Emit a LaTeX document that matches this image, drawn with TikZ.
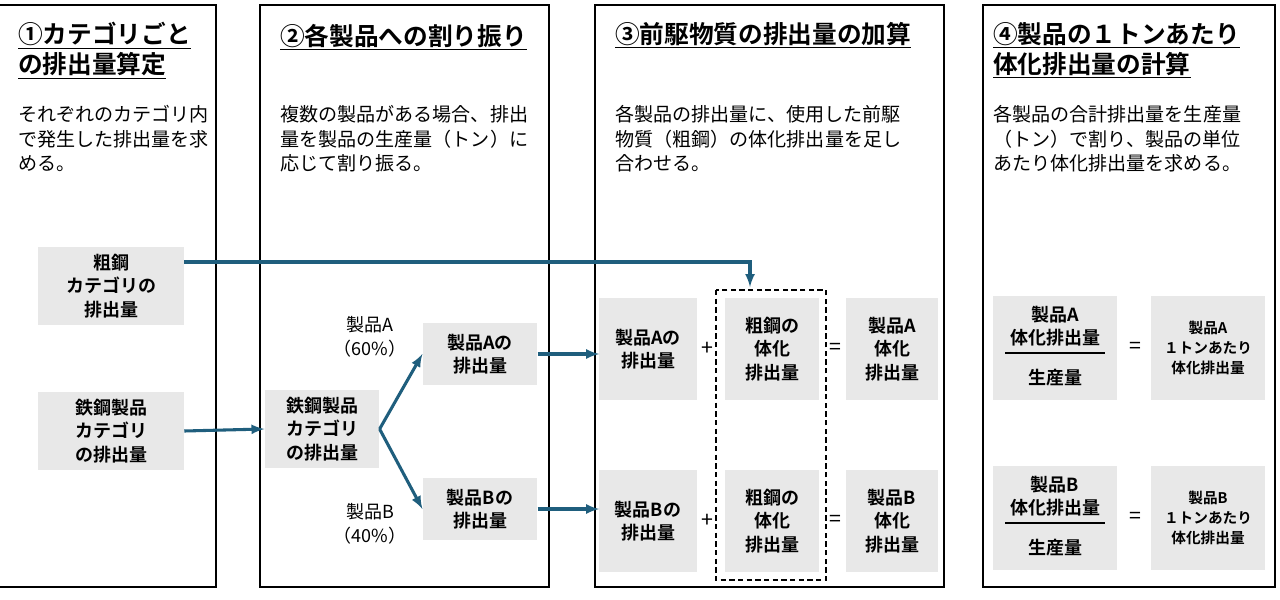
\documentclass[tikz,border=0pt]{standalone}
\usepackage{fontspec}
\setmainfont{Noto Sans CJK JP}[BoldFont=* Bold]
\newcommand\myul[1]{\underline{#1}}
\definecolor{arrc}{RGB}{31,94,125}
\begin{document}
\begin{tikzpicture}[x=0.75pt,y=-0.75pt,
 panel/.style={draw=black,line width=1.2pt},
 gbox/.style={fill=gray!18,draw=none,align=center,font=\fontsize{13.5}{17.5}\selectfont\bfseries},
 ttl/.style={anchor=north west,align=left,inner sep=0pt,font=\fontsize{18.5}{22.5}\selectfont\bfseries},
 body/.style={anchor=north west,align=left,inner sep=0pt,font=\fontsize{14.3}{18.5}\selectfont},
 lbl/.style={align=center,font=\fontsize{13.5}{18}\selectfont},
 arr/.style={draw=arrc,line width=2.3pt,-{latex}}]
\useasboundingbox (0,0) rectangle (1280,599);
\fill[white] (0,0) rectangle (1280,599);
% panels
\draw[panel] (-2,5) rectangle (216,587);
\draw[panel] (260,5) rectangle (549,587);
\draw[panel] (595,5) rectangle (944,587);
\draw[panel] (983,5) rectangle (1275,587);
% titles
\node[ttl] (t1) at (18,22) {\myul{①カテゴリごと}\\\myul{の排出量算定}};
\node[ttl] (t2) at (280,24) {\myul{②各製品への割り振り}};
\node[ttl] (t3) at (615,22) {\myul{③前駆物質の排出量の加算}};
\node[ttl] (t4) at (993,22) {\myul{④製品の１トンあたり}\\\myul{体化排出量の計算}};
% body
\node[body] (b1) at (18,105) {それぞれのカテゴリ内\\で発生した排出量を求\\める。};
\node[body] (b2) at (280,105) {複数の製品がある場合、排出\\量を製品の生産量（トン）に\\応じて割り振る。};
\node[body] (b3) at (615,105) {各製品の排出量に、使用した前駆\\物質（粗鋼）の体化排出量を足し\\合わせる。};
\node[body] (b4) at (993,105) {各製品の合計排出量を生産量\\（トン）で割り、製品の単位\\あたり体化排出量を求める。};
% panel1
\node[gbox,minimum width=109.5pt,minimum height=58.5pt] (c1) at (111,286) {粗鋼\\カテゴリの\\排出量};
\node[gbox,minimum width=109.5pt,minimum height=58.5pt] (c2) at (111,431) {鉄鋼製品\\カテゴリ\\の排出量};
% panel2
\node[gbox,minimum width=86pt,minimum height=58.5pt] (p2) at (322,429) {鉄鋼製品\\カテゴリ\\の排出量};
\node[gbox,minimum width=86pt,minimum height=46.5pt] (pa) at (480,354) {製品Aの\\排出量};
\node[gbox,minimum width=86pt,minimum height=46.5pt] (pb) at (480,509) {製品Bの\\排出量};
\node[lbl] (la) at (370,337) {製品A\\（60\%）};
\node[lbl] (lb) at (370,524) {製品B\\（40\%）};
% panel3
\draw[dash pattern=on 4pt off 2.5pt,line width=1pt] (716,290) rectangle (826,580);
\coordinate (dtop) at (750,287);
\foreach \r/\y in {A/349,B/521}{
 \node[gbox,minimum width=73pt,minimum height=76.5pt] (e\r) at (648,\y) {製品\r の\\排出量};
 \node[lbl,font=\fontsize{16}{18}\selectfont] (pl\r) at (707,\y) {+};
 \node[gbox,minimum width=71pt,minimum height=76.5pt] (s\r) at (772,\y) {粗鋼の\\体化\\排出量};
 \node[lbl,font=\fontsize{16}{18}\selectfont] (eq\r) at (835,\y) {=};
 \node[gbox,minimum width=69pt,minimum height=76.5pt] (r\r) at (892,\y) {製品\r\\体化\\排出量};
}
% panel4
\foreach \r/\y in {A/348,B/518}{
 \node[gbox,minimum width=93pt,minimum height=78pt] (f\r) at (1055,\y) {};
 \node[gbox,fill=none] (fn\r) at (1055,\y-22) {製品\r\\体化排出量};
 \node[gbox,fill=none] (fd\r) at (1055,\y+30) {生産量};
 \draw[line width=1pt] (1005,\y+5) -- (1105,\y+5);
 \node[lbl,font=\fontsize{16}{18}\selectfont] (q\r) at (1135,\y) {=};
 \node[gbox,minimum width=85pt,minimum height=78pt,font=\fontsize{11}{15}\selectfont\bfseries] (g\r) at (1208,\y) {製品\r\\１トンあたり\\体化排出量};
}
% arrows
\draw[arr] (c1.east|-0,262) -| (dtop);
\draw[arr] (c2.east) -- (p2.west);
\draw[arr] (p2.east) -- (pa.west);
\draw[arr] (p2.east) -- (pb.west);
\draw[arr] (pa.east) -- (eA.west|-pa.east);
\draw[arr] (pb.east) -- (eB.west|-pb.east);
\end{tikzpicture}
\end{document}
